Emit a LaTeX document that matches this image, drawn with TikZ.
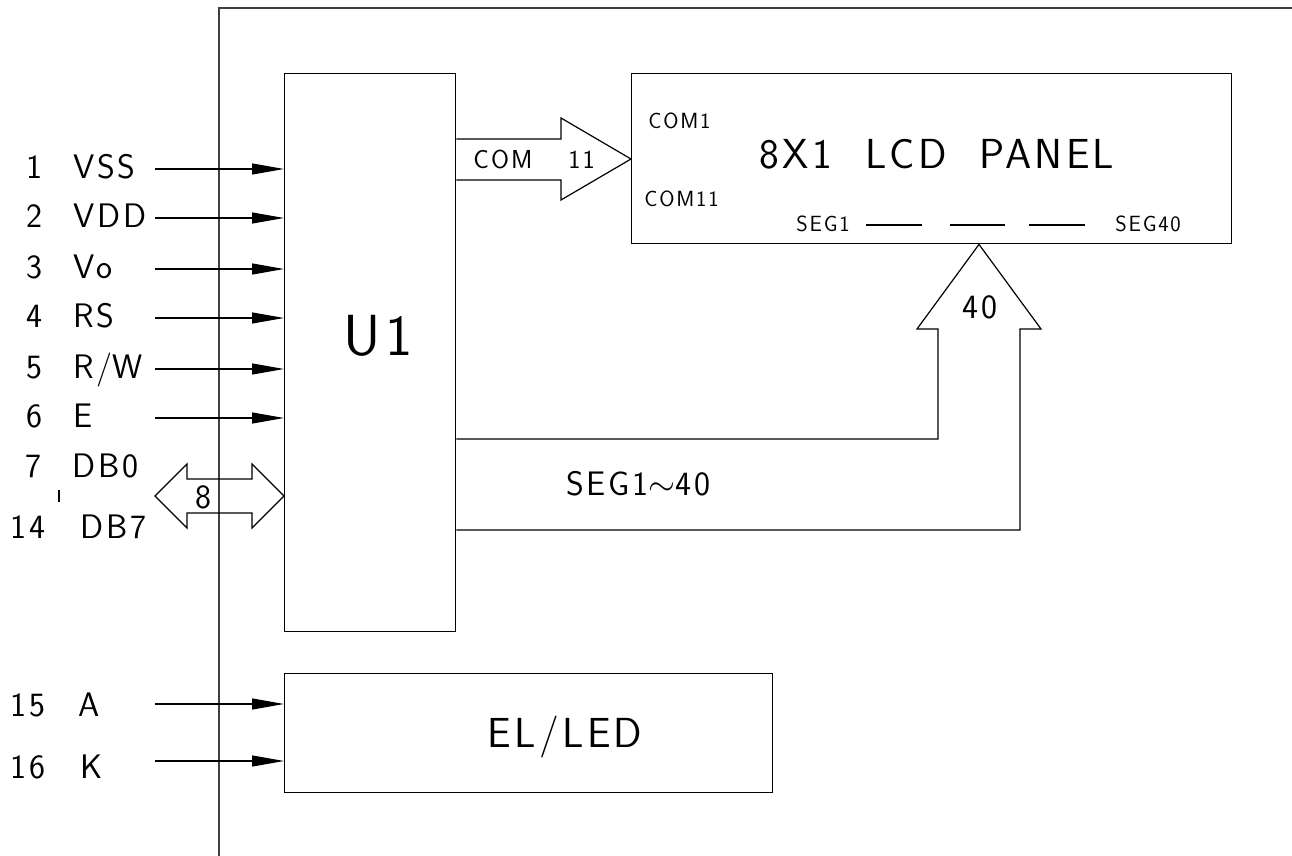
\documentclass[tikz,border=0pt]{standalone}
\usepackage{fontspec}
\newfontfamily\cadfont{lmsans17-regular.otf}[LetterSpace=8]
\usetikzlibrary{arrows.meta}
\begin{document}
\begin{tikzpicture}[x=0.5pt,y=-0.5pt,
  frame/.style={line width=0.7pt, draw=black!75},
  box/.style={draw, line width=0.7pt, inner sep=0pt, anchor=north west},
  wire/.style={line width=0.6pt},
  pinarrow/.style={wire, -{Triangle[length=16pt,width=5.5pt]}},
  txt/.style={inner sep=0pt, font=\cadfont\fontsize{17}{19}\selectfont},
  bigtxt/.style={inner sep=0pt, font=\cadfont\fontsize{21}{24}\selectfont},
  smalltxt/.style={inner sep=0pt, font=\cadfont\fontsize{11}{13}\selectfont},
  midtxt/.style={inner sep=0pt, font=\cadfont\fontsize{13}{15}\selectfont},
  hugetxt/.style={inner sep=0pt, font=\cadfont\fontsize{29}{31}\selectfont}]
\useasboundingbox (0,0) rectangle (1292,856);
% outer frame
\draw[frame] (1292,8) -- (219,8) -- (219,856);
% boxes
\node[box, minimum width=85.5pt, minimum height=279pt] (u1) at (284,73) {};
\node[box, minimum width=300pt, minimum height=85pt] (lcd) at (631,73) {};
\node[box, minimum width=244pt, minimum height=59.5pt] (el) at (284,673) {};
% box texts
\node[hugetxt, anchor=base] (u1t) at (378,355) {U1};
\node[bigtxt, anchor=base] (lcdt) at (937,169) {8X1\ \ LCD\ \ PANEL};
\node[bigtxt, anchor=base] (elt) at (565,747) {EL/LED};
\node[smalltxt, anchor=base west] (com1) at (648,129) {COM1};
\node[smalltxt, anchor=base west] (com11) at (644,206) {COM11};
\node[smalltxt, anchor=base west] (seg1) at (796,232) {SEG1};
\node[smalltxt, anchor=base west] (seg40) at (1115,232) {SEG40};
\draw[wire] (866,225) -- (922,225);
\draw[wire] (950,225) -- (1005,225);
\draw[wire] (1029,225) -- (1085,225);
% input pins 1-6
\foreach \n/\l/\y in {1/VSS/169, 2/VDD/218, 3/Vo/269, 4/RS/318, 5/R\slash W/369, 6/E/418}{
  \node[txt, anchor=base east] (num\n) at (43,\y+9.5) {\n};
  \node[txt, anchor=base west] (lab\n) at (73,\y+9.5) {\l};
  \coordinate (p\n) at (155,\y);
  \draw[pinarrow] (p\n) -- (u1.west |- p\n);
}
% data bus
\node[txt, anchor=base east] (num7) at (42,477) {7};
\node[txt, anchor=base west] (lab7) at (72,477) {DB0};
\node[txt, anchor=base west] (num14) at (10,538) {14};
\node[txt, anchor=base west] (lab14) at (80,538) {DB7};
\draw[wire] (59,490) -- (59,502);
\coordinate (dbtip) at (155,496);
\draw[wire] (dbtip) -- (187,464) -- (187,479) -- (252,479) -- (252,464)
  -- (u1.west |- dbtip) -- (252,528) -- (252,513) -- (187,513) -- (187,528) -- cycle;
\node[txt, anchor=base] (eight) at (203,508) {8};
% COM bus
\draw[wire] (u1.east |- 0,139) -- (561,139) -- (561,118) -- (lcd.west |- 0,159)
  -- (561,200) -- (561,180) -- (u1.east |- 0,180);
\node[midtxt, anchor=base west] (comlab) at (473,169) {COM};
\node[midtxt, anchor=base west] (comn) at (568,169) {11};
% SEG bus
\draw[wire] (u1.east |- 0,439) -- (938,439) -- (938,329) -- (917,329)
  -- (lcd.south west -| 979,0) -- (1041,329) -- (1020,329) -- (1020,530) -- (u1.east |- 0,530);
\node[txt, anchor=base] (forty) at (980,318) {40};
\node[txt, anchor=base west] (seglab) at (566,495) {SEG1$\sim$40};
% backlight pins
\node[txt, anchor=base west] (num15) at (10,716) {15};
\node[txt, anchor=base west] (lab15) at (78,716) {A};
\node[txt, anchor=base west] (num16) at (10,778) {16};
\node[txt, anchor=base west] (lab16) at (80,778) {K};
\coordinate (p15) at (155,704);
\coordinate (p16) at (155,761);
\draw[pinarrow] (p15) -- (el.west |- p15);
\draw[pinarrow] (p16) -- (el.west |- p16);
\end{tikzpicture}
\end{document}
